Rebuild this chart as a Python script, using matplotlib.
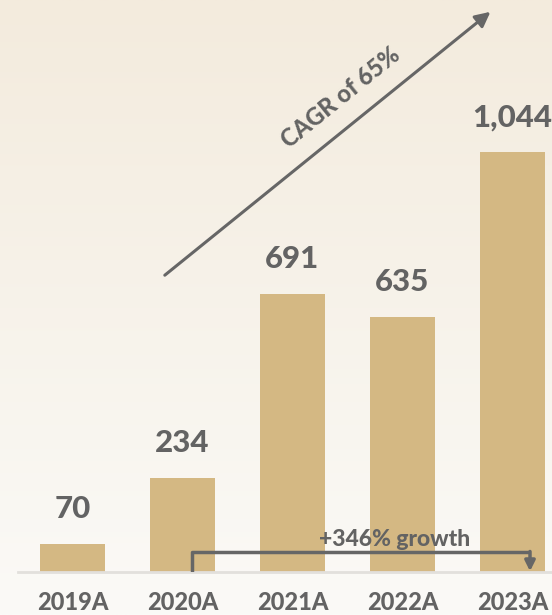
import numpy as np
import matplotlib
matplotlib.use("Agg")
import matplotlib.pyplot as plt
from matplotlib.colors import LinearSegmentedColormap

years = ["2019A", "2020A", "2021A", "2022A", "2023A"]
revenue = [70, 234, 691, 635, 1044]
value_labels = ["70", "234", "691", "635", "1,044"]
cagr_text = "CAGR of 65%"
growth_text = "+346% growth"

bar_color = "#D4B883"
text_color = "#636363"

plt.rcParams["font.family"] = ["Lato", "DejaVu Sans"]

fig = plt.figure(figsize=(5.52, 6.15), dpi=100)

# background gradient, beige at top fading to near white
bg = fig.add_axes([0, 0, 1, 1], zorder=-10)
cmap = LinearSegmentedColormap.from_list("bg", ["#FBFAF7", "#F3EBDD"])
bg.imshow(np.linspace(0, 1, 256).reshape(-1, 1), aspect="auto", cmap=cmap,
          origin="lower", extent=[0, 1, 0, 1])
bg.axis("off")

ax = fig.add_axes([18 / 552, 43 / 615, 1 - 18 / 552, 1 - 43 / 615])
ax.patch.set_alpha(0)
x = np.arange(len(years))
bars = ax.bar(x, revenue, width=0.59, color=bar_color, zorder=2)

ax.set_xlim(-0.495, 4.36)
ax.set_ylim(0, 1423)

for b, lab in zip(bars, value_labels):
    ax.annotate(lab, (b.get_x() + b.get_width() / 2, b.get_height()),
                xytext=(0, 15), textcoords="offset points", ha="center",
                va="bottom", fontsize=22.5, fontweight="black", color=text_color)

ax.set_xticks(x)
ax.set_xticklabels(years, fontsize=17, fontweight="black", color=text_color)
ax.tick_params(axis="x", length=0, pad=14)
ax.set_yticks([])
for s in ["top", "left", "right"]:
    ax.spines[s].set_visible(False)
ax.spines["bottom"].set_color("#E2E0DC")
ax.spines["bottom"].set_linewidth(2)

# CAGR arrow
ax.annotate("", xy=(3.82, 1398), xytext=(0.82, 734),
            arrowprops=dict(arrowstyle="-|>,head_length=0.9,head_width=0.45",
                            color="#666666", lw=2.2))
ax.text(2.5, 1158, cagr_text, rotation=39, rotation_mode="anchor",
        ha="center", va="bottom", fontsize=17, fontweight="black",
        color=text_color)

# growth bracket
ax.plot([1.086, 1.086, 4.16], [0, 50, 50], color="#666666", lw=2.5,
        solid_joinstyle="round", solid_capstyle="butt", zorder=3)
ax.annotate("", xy=(4.16, 2), xytext=(4.16, 51),
            arrowprops=dict(arrowstyle="-|>,head_length=0.6,head_width=0.3",
                            color="#666666", lw=2.5, shrinkA=0, shrinkB=0),
            zorder=3)
ax.text(2.93, 54, growth_text, ha="center", va="bottom", fontsize=16.5,
        fontweight="black", color=text_color, zorder=4)

fig.savefig("out.png", dpi=100)
